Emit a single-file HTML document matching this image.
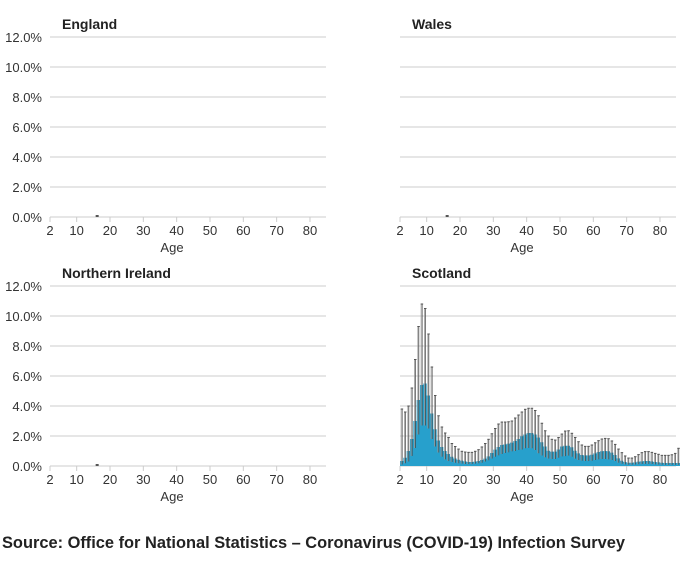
<!DOCTYPE html>
<html><head><meta charset="utf-8"><style>
body{margin:0;background:#fff;width:686px;height:560px;overflow:hidden;font-family:"Liberation Sans",sans-serif}
svg text{font-family:"Liberation Sans",sans-serif}
</style></head><body>
<svg id="c" width="686" height="560"></svg>
<script>
const ages=[];for(let a=2;a<=85;a++)ages.push(a);
const yTicks=[0,2,4,6,8,10,12];
const xTicks=[2,10,20,30,40,50,60,70,80];
const panelNames=["England","Wales","Northern Ireland","Scotland"];
const scotCentral=[0.33,0.55,1.0,1.8,3.0,4.4,5.4,5.5,4.7,3.5,2.45,1.7,1.27,1.0,0.8,0.62,0.5,0.42,0.36,0.31,0.27,0.27,0.29,0.33,0.4,0.49,0.64,0.87,1.09,1.27,1.4,1.44,1.49,1.56,1.67,1.8,1.98,2.1,2.2,2.2,2.1,1.9,1.58,1.3,1.02,0.96,0.96,1.1,1.3,1.35,1.35,1.25,1.02,0.84,0.73,0.71,0.71,0.75,0.84,0.93,0.98,1.0,0.98,0.89,0.73,0.51,0.35,0.27,0.22,0.22,0.24,0.29,0.31,0.33,0.33,0.31,0.27,0.24,0.22,0.2,0.2,0.2,0.2,0.2];
const scotLower=[0.1,0.18,0.3,0.67,1.2,2.1,2.7,2.7,2.5,1.8,1.3,0.9,0.62,0.44,0.33,0.27,0.22,0.18,0.16,0.13,0.13,0.13,0.16,0.18,0.22,0.3,0.38,0.5,0.62,0.71,0.8,0.87,0.91,0.98,1.0,1.07,1.1,1.18,1.2,1.18,1.07,0.85,0.7,0.58,0.5,0.47,0.47,0.55,0.64,0.66,0.69,0.62,0.49,0.4,0.35,0.33,0.33,0.35,0.4,0.44,0.47,0.47,0.44,0.4,0.33,0.22,0.15,0.11,0.09,0.09,0.1,0.12,0.13,0.14,0.14,0.13,0.11,0.1,0.09,0.08,0.08,0.08,0.08,0.08];
const scotUpper=[3.8,3.6,4.0,5.2,7.1,9.3,10.8,10.5,8.8,6.6,4.7,3.35,2.6,2.2,1.9,1.5,1.3,1.13,0.98,0.93,0.91,0.91,0.98,1.09,1.27,1.5,1.78,2.15,2.5,2.8,2.93,2.93,2.95,3.0,3.2,3.4,3.6,3.78,3.85,3.85,3.7,3.35,2.85,2.35,2.0,1.78,1.73,1.9,2.13,2.33,2.35,2.18,1.9,1.62,1.4,1.31,1.31,1.4,1.55,1.69,1.8,1.84,1.82,1.67,1.44,1.13,0.89,0.67,0.53,0.53,0.62,0.76,0.89,0.96,0.96,0.91,0.84,0.78,0.71,0.71,0.71,0.75,0.84,1.18];
const otherAge=16, otherValue=0;

const NS="http://www.w3.org/2000/svg",svg=document.getElementById('c');
function el(t,a,p){const e=document.createElementNS(NS,t);for(const k in a)e.setAttribute(k,a[k]);(p||svg).appendChild(e);return e;}
const panels=[{x0:50,y0:217,title:"England",yl:true},{x0:400,y0:217,title:"Wales",yl:false},{x0:50,y0:466,title:"Northern Ireland",yl:true},{x0:400,y0:466,title:"Scotland",yl:false}];
const pxYear=3.333, pxPct=15;
panels.forEach((p,i)=>{
  const g=el('g',{});
  
  
  const X=a=>p.x0+(a-2)*pxYear, Y=v=>p.y0-v*pxPct;
  const t=el('text',{x:p.x0+12,y:p.y0-188,'font-size':14,'font-weight':'bold',fill:'#222'},g);t.textContent=panelNames[i];
  
  yTicks.forEach(v=>{
    el('line',{x1:p.x0,x2:p.x0+276,y1:Y(v),y2:Y(v),stroke:'#ccc','stroke-width':1},g);
    if(p.yl){const l=el('text',{x:42,y:Y(v)+5,'text-anchor':'end','font-size':13,fill:'#333'},g);l.textContent=v.toFixed(1)+'%';
      }
  });
  xTicks.forEach(a=>{
    el('line',{x1:X(a),x2:X(a),y1:p.y0,y2:p.y0+5,stroke:'#ccc'},g);
    const l=el('text',{x:X(a),y:p.y0+18,'text-anchor':'middle','font-size':13,fill:'#333'},g);l.textContent=a;
    
  });
  const at=el('text',{x:p.x0+122,y:p.y0+35,'text-anchor':'middle','font-size':13,fill:'#333'},g);at.textContent='Age';
  
  if(i<3){
    const m=el('rect',{x:X(otherAge)-1,y:Y(otherValue)-2,width:3,height:2,fill:'#555'},g);
    
  } else {
    let d='M'+X(ages[0])+','+Y(0);
    ages.forEach((a,k)=>{d+=' L'+X(a)+','+Y(scotCentral[k])+' L'+(X(a)+pxYear)+','+Y(scotCentral[k]);});
    d+=' L'+(X(ages[ages.length-1])+pxYear)+','+Y(0)+' Z';
    const ar=el('path',{d:d,fill:'#27a0cc'},g);
    
    ages.forEach((a,k)=>{
      const cx=X(a)+pxYear/2;
      const e=el('g',{},g);
      
      el('line',{x1:cx-0.5,x2:cx-0.5,y1:Y(scotUpper[k]),y2:Y(scotLower[k]),stroke:'#999','stroke-width':1,'stroke-opacity':0.8},e);
      el('line',{x1:cx+0.5,x2:cx+0.5,y1:Y(scotUpper[k]),y2:Y(scotLower[k]),stroke:'#444','stroke-width':0.7},e);
      el('line',{x1:cx-1,x2:cx+1.5,y1:Y(scotUpper[k]),y2:Y(scotUpper[k]),stroke:'#555','stroke-width':1},e);
    });
  }
});
const s=el('text',{x:2,y:548,'font-size':16.4,'font-weight':'bold',fill:'#222'});
s.textContent='Source: Office for National Statistics – Coronavirus (COVID-19) Infection Survey';

</script>
</body></html>
